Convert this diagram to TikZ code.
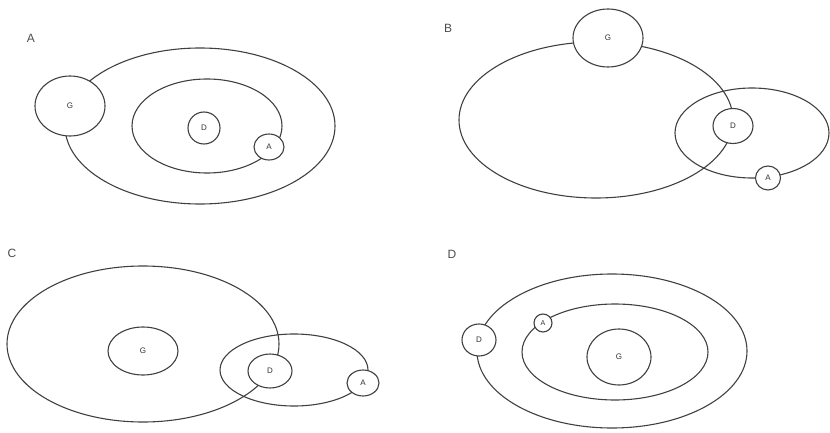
\documentclass[tikz,border=0pt]{standalone}
\usepackage{fontspec}
\setmainfont{Liberation Sans}
\usetikzlibrary{shapes.geometric}
\tikzset{
  orbit/.style={draw=black!75, line width=1.1pt, ellipse, inner sep=0pt},
  body/.style={draw=black!75, line width=1.1pt, ellipse, inner sep=0pt, fill=white, font=\fontsize{8}{8}\selectfont, text=black!80},
  panel/.style={font=\fontsize{12}{12}\selectfont, text=black!70}
}
\begin{document}
\begin{tikzpicture}[x=1pt,y=-1pt]
\useasboundingbox (0,0) rectangle (830,433);
% Panel A
\node[panel] (lA) at (31,38) {A};
\node[orbit, minimum width=270, minimum height=156] (oA) at (200,126) {};
\node[orbit, minimum width=150, minimum height=94] (iA) at (207,126) {};
\node[body, minimum width=70, minimum height=60] (gA) at (70,106) {G};
\node[body, minimum width=32, minimum height=32] (dA) at (204,128) {D};
\node[body, minimum width=30, minimum height=26] (aA) at (269,147) {A};
% Panel B
\node[panel] (lB) at (448,28) {B};
\node[orbit, minimum width=274, minimum height=156] (oB) at (596,120) {};
\node[orbit, minimum width=154, minimum height=90] (iB) at (752,133) {};
\node[body, minimum width=70, minimum height=58] (gB) at (608,38) {G};
\node[body, minimum width=40, minimum height=35] (dB) at (733,126) {D};
\node[body, minimum width=25, minimum height=24] (aB) at (768,178) {A};
% Panel C
\node[panel] (lC) at (12,253) {C};
\node[orbit, minimum width=272, minimum height=156] (oC) at (143,344) {};
\node[body, minimum width=70, minimum height=48] (gC) at (143,351) {G};
\node[orbit, minimum width=148, minimum height=72] (iC) at (294,370) {};
\node[body, minimum width=44, minimum height=34] (dC) at (270,371) {D};
\node[body, minimum width=32, minimum height=26] (aC) at (363,383) {A};
% Panel D
\node[panel] (lD) at (452,254) {D};
\node[orbit, minimum width=270, minimum height=154] (oD) at (612,351) {};
\node[orbit, minimum width=186, minimum height=96] (iD) at (615,352) {};
\node[body, minimum width=64, minimum height=56] (gD) at (619,357) {G};
\node[body, minimum width=34, minimum height=32] (dD) at (479,340) {D};
\node[body, minimum width=18, minimum height=18, font=\fontsize{7}{7}\selectfont] (aD) at (543,323) {A};
\end{tikzpicture}
\end{document}
